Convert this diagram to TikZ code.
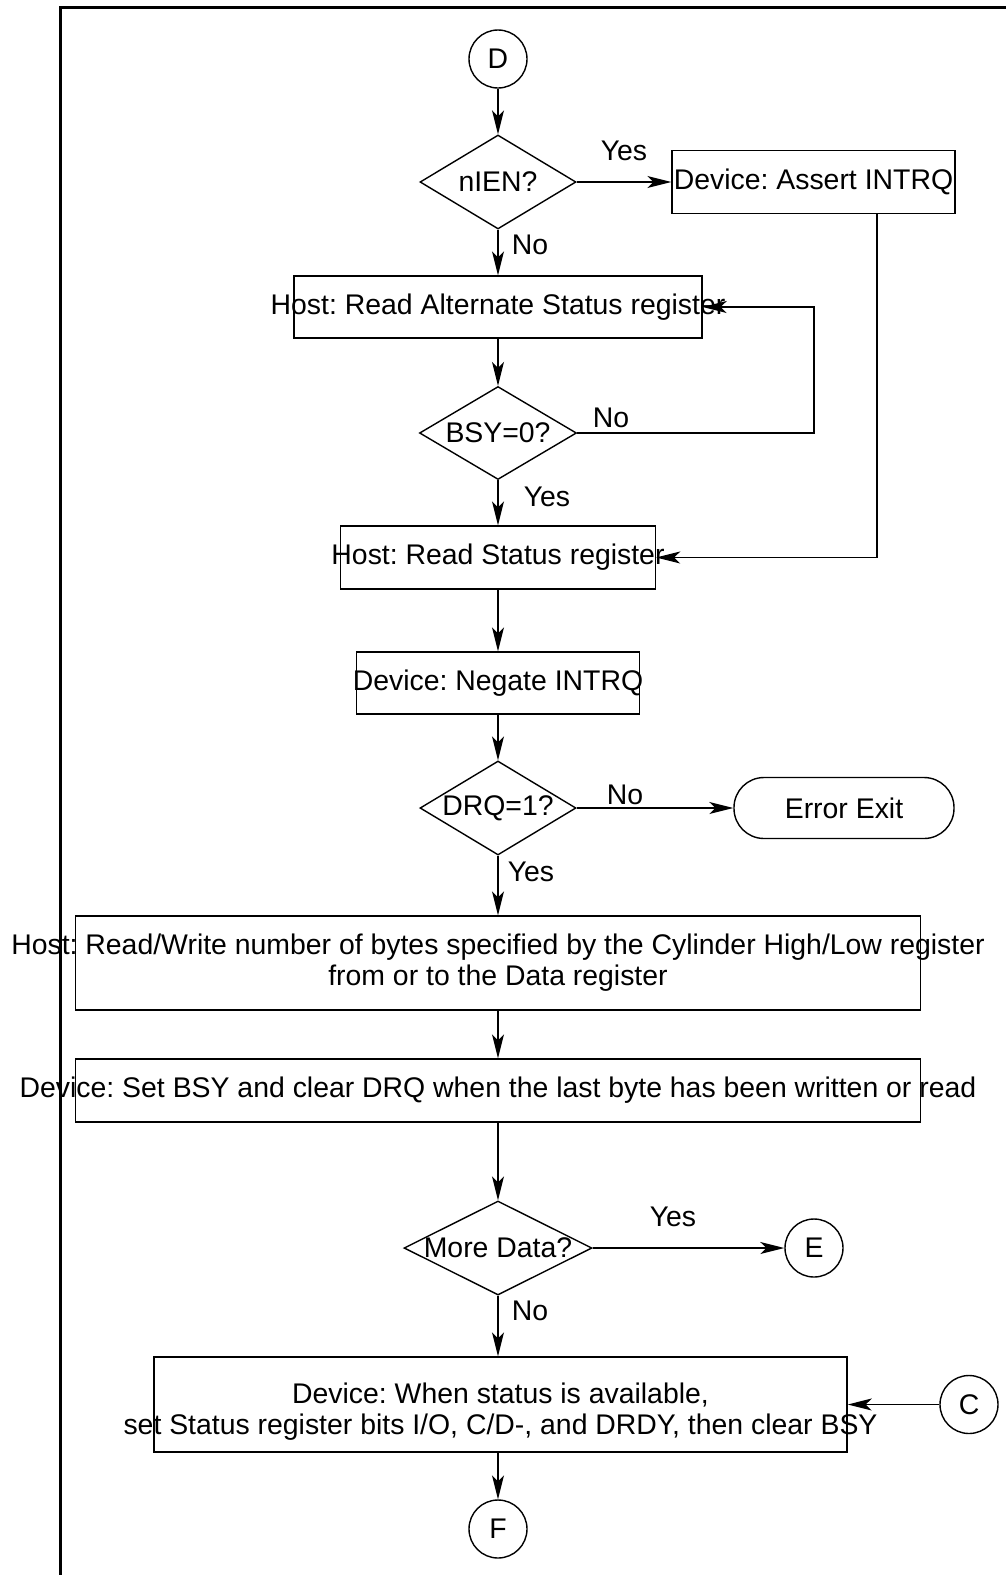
\documentclass[tikz,border=0pt]{standalone}
\usepackage{fontspec}
\setmainfont{Liberation Sans}
\usetikzlibrary{shapes.geometric,arrows.meta}
\frenchspacing
\begin{document}
\begin{tikzpicture}[x=1pt,y=-1pt,
 every node/.style={font=\fontsize{28.4}{31}\selectfont},
 box/.style={draw,line width=1.4pt,rectangle,inner sep=0pt},
 dia/.style={draw,line width=1.4pt,diamond,inner sep=0pt},
 conn/.style={draw,line width=1.4pt,circle,inner sep=0pt,minimum size=58pt},
 term/.style={draw,line width=1.4pt,rectangle,rounded corners=30pt,inner sep=0pt},
 arr/.style={line width=1.4pt,-{Stealth[length=24pt,width=12pt,inset=6pt]}},
 lbl/.style={inner sep=0pt}]
\useasboundingbox (0,0) rectangle (1006,1575);
\draw[line width=3pt] (60,1575) -- (60,7) -- (1006,7);
% nodes
\node[conn] (D) at (498,59) {D};
\node[dia, minimum width=156pt, minimum height=94pt] (nien) at (498,182) {};
\node[lbl] (nient) at (nien) {nIEN?};
\node[box, minimum width=283pt, minimum height=63pt] (assert) at (813.5,182) {};
\node[lbl] (assertt) at (assert) {Device: Assert INTRQ};
\node[box, minimum width=408pt, minimum height=62pt] (alt) at (498,307) {};
\node[lbl] (altt) at (alt) {Host: Read Alternate Status register};
\node[dia, minimum width=157pt, minimum height=93pt] (bsy) at (498,433) {};
\node[lbl] (bsyt) at (bsy) {BSY=0?};
\node[box, minimum width=315pt, minimum height=63pt] (rs) at (498,557.5) {};
\node[lbl] (rst) at (rs) {Host: Read Status register};
\node[box, minimum width=283pt, minimum height=62pt] (neg) at (498,683) {};
\node[lbl] (negt) at (neg) {Device: Negate INTRQ};
\node[dia, minimum width=156pt, minimum height=94pt] (drq) at (498,808) {};
\node[lbl] (drqt) at (drq) {DRQ=1?};
\node[term, minimum width=220pt, minimum height=61pt] (err) at (844,808) {};
\node[lbl] (errt) at (err) {Error Exit};
\node[box, minimum width=845pt, minimum height=94pt] (rw) at (498,963) {};
\node[lbl, align=center] (rwt) at (rw) {Host: Read/Write number of bytes specified by the Cylinder High/Low register\\from or to the Data register};
\node[box, minimum width=845pt, minimum height=63pt] (setb) at (498,1090.5) {};
\node[lbl] (setbt) at (setb) {Device: Set BSY and clear DRQ when the last byte has been written or read};
\node[dia, minimum width=188pt, minimum height=94pt] (more) at (498,1248) {};
\node[lbl] (moret) at (more) {More Data?};
\node[conn] (E) at (814,1248) {E};
\node[box, minimum width=693pt, minimum height=95pt] (when) at (500.5,1404.5) {};
\node[lbl, align=center] (whent) at ([yshift=-7pt]when.center) {Device: When status is available,\\set Status register bits I/O, C/D-, and DRDY, then clear BSY};
\node[conn] (C) at (969,1404.5) {C};
\node[conn] (F) at (498,1529) {F};
% labels
\node[lbl] (y1) at (624,151) {Yes};
\node[lbl] (n1) at (530,245) {No};
\node[lbl] (n2) at (611,418) {No};
\node[lbl] (y2) at (547,497) {Yes};
\node[lbl] (n3) at (625,795) {No};
\node[lbl] (y3) at (531,872) {Yes};
\node[lbl] (y4) at (673,1217) {Yes};
\node[lbl] (n4) at (530,1311) {No};
% connectors
\coordinate (loopx) at (814,433);
\coordinate (dropx) at (877,213);
\draw[arr] (D) -- (nien);
\draw[arr] (nien) -- (assert);
\draw[arr] (nien) -- (alt);
\draw[arr] (alt) -- (bsy);
\draw[arr] (bsy.east) -- (loopx) |- (alt.east);
\draw[arr] (bsy) -- (rs);
\draw[arr] (dropx) |- (rs.east);
\draw[arr] (rs) -- (neg);
\draw[arr] (neg) -- (drq);
\draw[arr] (drq) -- (err);
\draw[arr] (drq) -- (rw);
\draw[arr] (rw) -- (setb);
\draw[arr] (setb.south -| more.north) -- (more.north);
\draw[arr] (more) -- (E);
\draw[arr] (more.south) -- (more.south |- when.north);
\draw[arr] (C) -- (when);
\draw[arr] (when.south -| F.north) -- (F);
\end{tikzpicture}
\end{document}
